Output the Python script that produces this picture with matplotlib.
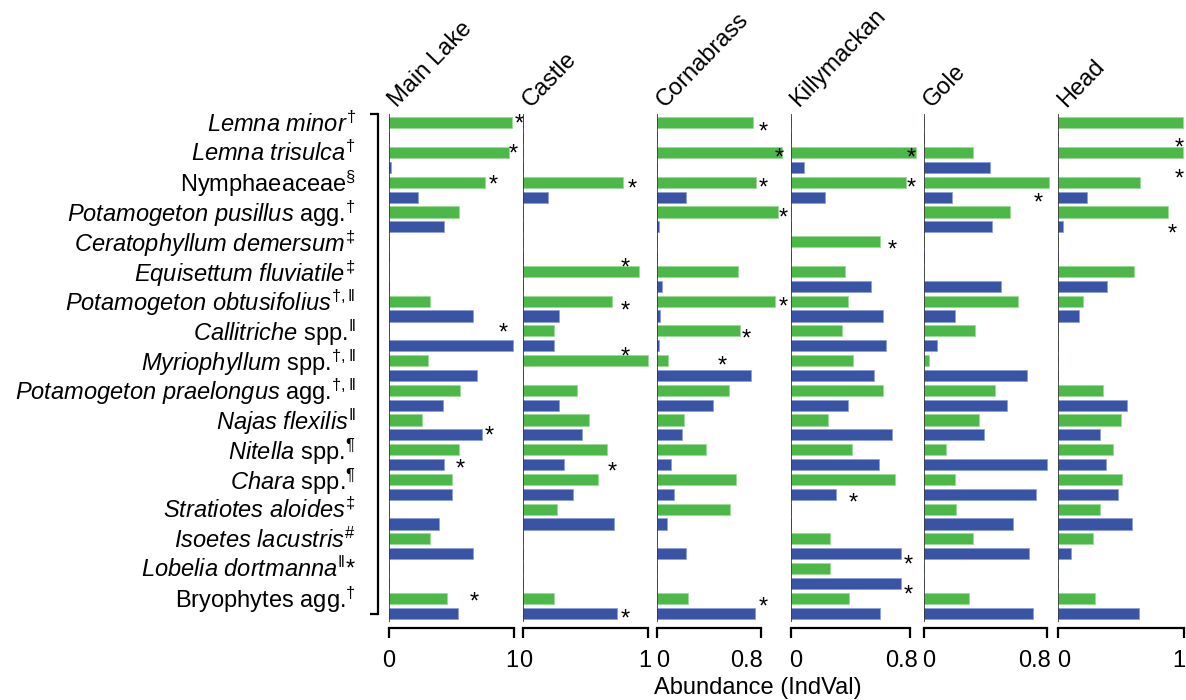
import matplotlib
matplotlib.use("Agg")
from matplotlib import pyplot as plt
from matplotlib import transforms

plt.rcParams['font.family'] = ['Liberation Sans', 'DejaVu Sans']
plt.rcParams['mathtext.fontset'] = 'custom'
plt.rcParams['mathtext.rm'] = 'Liberation Sans'
plt.rcParams['mathtext.it'] = 'Liberation Sans:italic'

species = [
  r'$\mathit{Lemna\ minor}^{\dagger}$',
  r'$\mathit{Lemna\ trisulca}^{\dagger}$',
  r'Nymphaeaceae$^{\S}$',
  r'$\mathit{Potamogeton\ pusillus}$ agg.$^{\dagger}$',
  r'$\mathit{Ceratophyllum\ demersum}^{\ddagger}$',
  r'$\mathit{Equisettum\ fluviatile}^{\ddagger}$',
  r'$\mathit{Potamogeton\ obtusifolius}^{\dagger,\Vert}$',
  r'$\mathit{Callitriche}$ spp.$^{\Vert}$',
  r'$\mathit{Myriophyllum}$ spp.$^{\dagger,\Vert}$',
  r'$\mathit{Potamogeton\ praelongus}$ agg.$^{\dagger,\Vert}$',
  r'$\mathit{Najas\ flexilis}^{\Vert}$',
  r'$\mathit{Nitella}$ spp.$^{\P}$',
  r'$\mathit{Chara}$ spp.$^{\P}$',
  r'$\mathit{Stratiotes\ aloides}^{\ddagger}$',
  r'$\mathit{Isoetes\ lacustris}^{\#}$',
  r'$\mathit{Lobelia\ dortmanna}^{\Vert}$*',
  r'Bryophytes agg.$^{\dagger}$',
]

lakes = ["Main Lake", "Castle", "Cornabrass", "Killymackan", "Gole", "Head"]
x_max = [1, 1, 0.8, 0.8, 0.8, 1]
x_max_labels = ["1", "1", "0.8", "0.8", "0.8", "1"]

# abundance (IndVal), one value per species
main_green = [0.98, 0.96, 0.77, 0.56, 0, 0, 0.33, 0, 0.31, 0.57, 0.26, 0.56, 0.50, 0, 0.33, 0, 0.46]
main_blue = [0, 0.015, 0.23, 0.44, 0, 0, 0.67, 0.99, 0.70, 0.43, 0.74, 0.44, 0.50, 0.40, 0.67, 0, 0.55]
castle_green = [0, 0, 0.80, 0, 0, 0.93, 0.71, 0.25, 1.0, 0.43, 0.53, 0.67, 0.60, 0.27, 0, 0, 0.25]
castle_blue = [0, 0, 0.20, 0, 0, 0, 0.29, 0.25, 0, 0.29, 0.47, 0.33, 0.40, 0.73, 0, 0, 0.75]
corna_green = [0.74, 0.96, 0.76, 0.93, 0, 0.62, 0.91, 0.64, 0.085, 0.55, 0.21, 0.38, 0.61, 0.56, 0, 0, 0.24]
corna_blue = [0, 0, 0.22, 0.015, 0, 0.04, 0.025, 0.015, 0.72, 0.43, 0.19, 0.11, 0.13, 0.08, 0.22, 0, 0.75]
killy_green = [0, 0.84, 0.77, 0, 0.60, 0.36, 0.38, 0.34, 0.42, 0.62, 0.25, 0.41, 0.70, 0, 0.26, 0.26, 0.39]
killy_blue = [0, 0.09, 0.23, 0, 0, 0.54, 0.62, 0.64, 0.56, 0.38, 0.68, 0.59, 0.30, 0, 0.74, 0.74, 0.60]
gole_green = [0, 0.32, 0.81, 0.56, 0, 0, 0.61, 0.33, 0.03, 0.46, 0.36, 0.14, 0.20, 0.21, 0.32, 0, 0.29]
gole_blue = [0, 0.43, 0.18, 0.44, 0, 0.50, 0.20, 0.085, 0.67, 0.54, 0.39, 0.80, 0.73, 0.58, 0.68, 0, 0.71]
head_green = [0.99, 0.99, 0.65, 0.87, 0, 0.60, 0.20, 0, 0, 0.36, 0.50, 0.44, 0.51, 0.33, 0.28, 0, 0.29]
head_blue = [0, 0, 0.23, 0.04, 0, 0.39, 0.17, 0, 0, 0.55, 0.33, 0.38, 0.48, 0.59, 0.10, 0, 0.64]

greens = [main_green, castle_green, corna_green, killy_green, gole_green, head_green]
blues = [main_blue, castle_blue, corna_blue, killy_blue, gole_blue, head_blue]

# significance asterisks: panel, bar slot (0..33), x position
star_panel = [0, 0, 0, 0, 0, 0, 0,
              1, 1, 1, 1, 1, 1,
              2, 2, 2, 2, 2, 2, 2, 2,
              3, 3, 3, 3, 3, 3,
              4,
              5, 5, 5]
star_slot = [-0.27, 1.7, 3.8, 13.8, 20.7, 22.9, 31.9,
             4.1, 9.4, 12.3, 15.4, 23.1, 33.0,
             0.27, 2.0, 4.0, 6.0, 12.05, 14.2, 16.0, 32.25,
             2.0, 4.0, 8.2, 25.25, 29.4, 31.4,
             5.05,
             1.3, 3.4, 7.1]
star_x = [1.04, 0.99, 0.83, 0.91, 0.80, 0.57, 0.68,
          0.87, 0.82, 0.82, 0.82, 0.71, 0.82,
          0.82, 0.94, 0.82, 0.97, 0.97, 0.69, 0.50, 0.82,
          0.81, 0.81, 0.68, 0.42, 0.79, 0.79,
          0.74,
          0.96, 0.96, 0.91]

green_col = '#4cb848'
blue_col = '#3a54a5'

W, H = 1186, 700
fig = plt.figure(figsize=(W / 100, H / 100), dpi=100)

panel_left = [389, 523, 657, 791, 924, 1058]
panel_right = [514, 648, 761, 910, 1047, 1184]
top_px, bot_px = 114, 622
fs = 17

# tick label placement so neighbouring "1 0" / "0.8 0" sit side by side
zero_ha = ['center', 'left', 'left', 'left', 'left', 'left']
zero_dx = [0, -4, -1, -2, -2, -1]
max_ha = ['right', 'right', 'right', 'right', 'right', 'right']
max_dx = [4, 3, 2, 8, 4, 1]

axes = []
for p in range(6):
  ax = fig.add_axes([panel_left[p] / W, 1 - bot_px / H,
                     (panel_right[p] - panel_left[p]) / W, (bot_px - top_px) / H])
  axes.append(ax)
  g_pos = [2 * i for i in range(len(species))]
  b_pos = [2 * i + 1 for i in range(len(species))]
  ax.barh(g_pos, greens[p], height=0.75, color=green_col, edgecolor='#9fd89a',
          linewidth=0.6, clip_on=False)
  ax.barh(b_pos, blues[p], height=0.75, color=blue_col, edgecolor='#8c9fd8',
          linewidth=0.6, clip_on=False)
  ax.axvline(0, color='#222222', lw=1.1)
  ax.set_xlim(0, x_max[p])
  ax.set_ylim(33.6, -0.6)
  for s in ['top', 'right', 'left']:
    ax.spines[s].set_visible(False)
  ax.spines['bottom'].set_position(('outward', 4.5))
  ax.spines['bottom'].set_bounds(0, x_max[p])
  ax.spines['bottom'].set_linewidth(1.6)
  ax.set_xticks([0, x_max[p]])
  ax.set_xticklabels(["0", x_max_labels[p]])
  ax.tick_params(axis='x', length=7, width=1.6, pad=9, labelsize=fs)
  lbls = ax.get_xticklabels()
  lbls[0].set_ha(zero_ha[p])
  lbls[0].set_transform(lbls[0].get_transform() +
                        transforms.ScaledTranslation(zero_dx[p] / 100, 0, fig.dpi_scale_trans))
  lbls[1].set_ha(max_ha[p])
  lbls[1].set_transform(lbls[1].get_transform() +
                        transforms.ScaledTranslation(max_dx[p] / 100, 0, fig.dpi_scale_trans))
  ax.set_yticks([])
  ax.patch.set_visible(False)
  fig.text((panel_left[p] + 8) / W, 1 - 108 / H, lakes[p], rotation=46,
           rotation_mode='anchor', ha='left', va='baseline', fontsize=fs)

# species labels and left bracket on the first panel
ax0 = axes[0]
ax0.spines['left'].set_visible(True)
ax0.spines['left'].set_position(('outward', 8))
ax0.spines['left'].set_bounds(-0.6, 33.05)
ax0.spines['left'].set_linewidth(1.6)
ax0.set_yticks([2 * i - 0.1 for i in range(len(species))])
ax0.set_yticklabels(species, fontsize=fs)
ax0.tick_params(axis='y', which='major', length=0, pad=16)
ax0.set_yticks([-0.6, 33.05], minor=True)
ax0.tick_params(axis='y', which='minor', length=6, width=1.6)

for j in range(len(star_x)):
  ax = axes[star_panel[j]]
  tr = transforms.offset_copy(ax.transData, fig=fig, y=-6, units='dots')
  ax.text(star_x[j], star_slot[j], '*', transform=tr, ha='center', va='center',
          fontsize=fs, clip_on=False)

fig.text(758 / W, 1 - 688 / H, 'Abundance (IndVal)', ha='center', va='center', fontsize=fs)

fig.savefig('out.png', dpi=100)
